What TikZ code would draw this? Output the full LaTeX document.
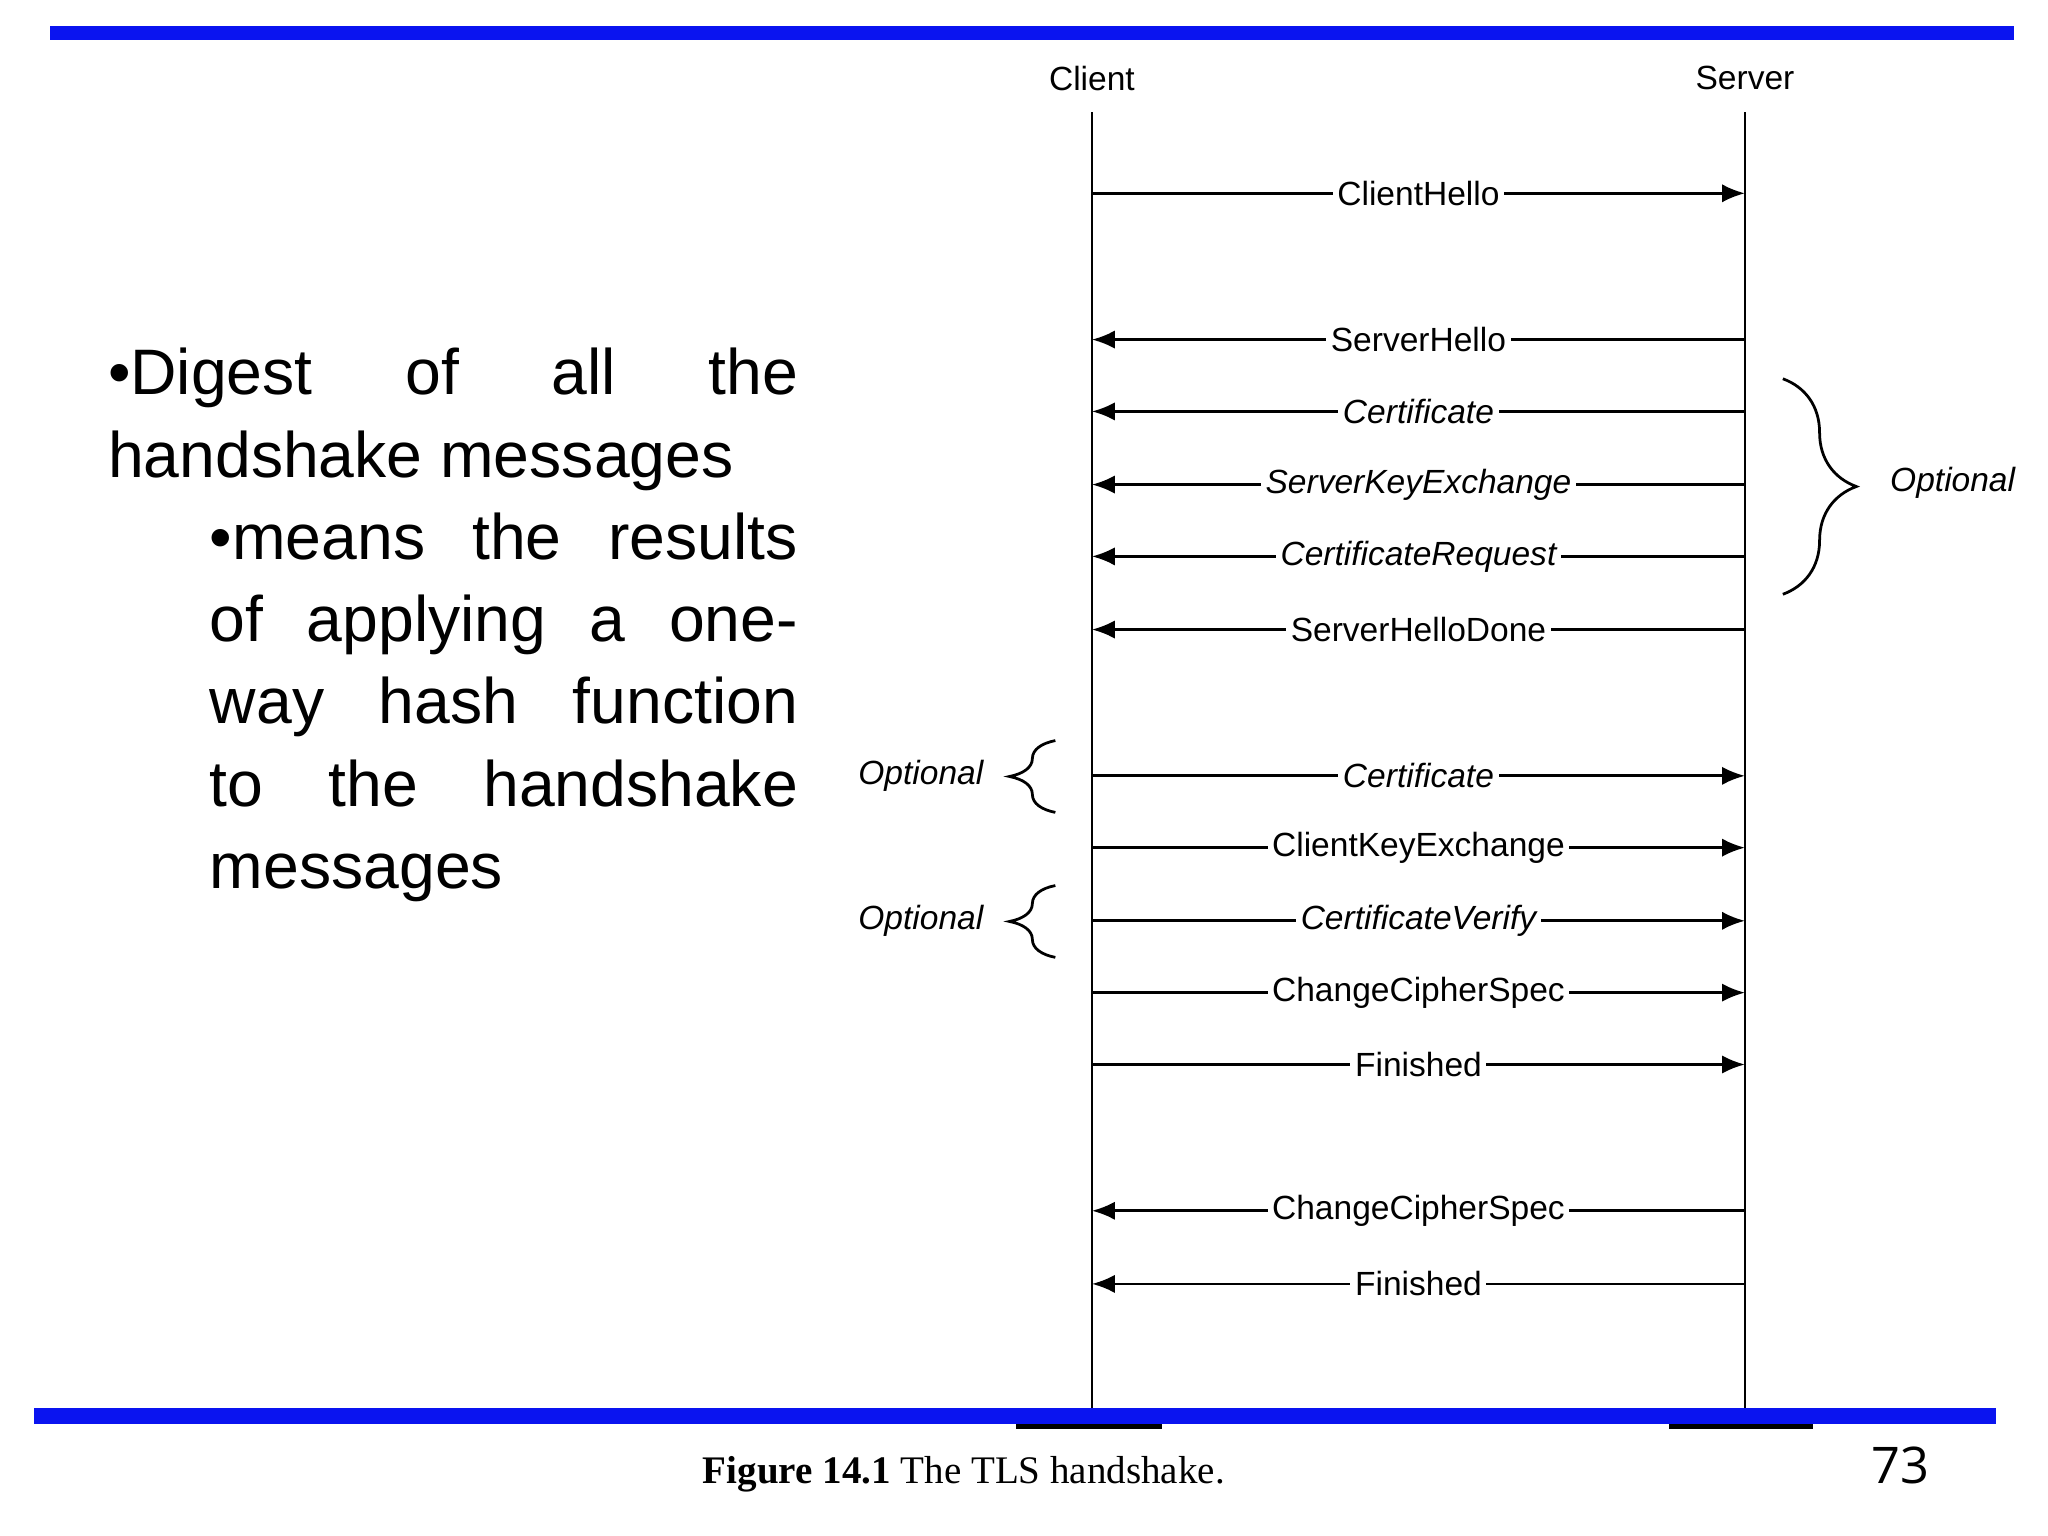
\documentclass[tikz,border=0pt]{standalone}
\usepackage{fontspec}
\setmainfont{Liberation Sans}
\newfontfamily\bodyfont{Liberation Sans}
\newfontfamily\numfont{Open Sans}
\newfontfamily\capfont{Liberation Serif}
\usetikzlibrary{arrows.meta,decorations.pathreplacing}
\definecolor{barblue}{RGB}{10,20,240}
\begin{document}
\begin{tikzpicture}[x=0.01cm,y=-0.01cm,
  msg/.style={line width=0.6pt,-{Latex[length=5pt,width=4pt]}},
  lbl/.style={fill=white,inner sep=1pt,font=\fontsize{7.3}{9}\selectfont},
  ilbl/.style={lbl,font=\fontsize{7.3}{9}\selectfont\itshape},
  life/.style={line width=0.6pt},
  brc/.style={line width=0.6pt,decorate,decoration={brace,amplitude=10pt}}]
\useasboundingbox (0,0) rectangle (1568,1176);
\fill[barblue] (38,20) rectangle (1542,31);
\fill[barblue] (26,1078) rectangle (1528,1090);
\fill (778,1090) rectangle (890,1094);
\fill (1278,1090) rectangle (1388,1094);
\node[font=\fontsize{7.3}{9}\selectfont] (client) at (836,60) {Client};
\node[font=\fontsize{7.3}{9}\selectfont] (server) at (1336,60) {Server};
\coordinate (ct) at (836,86); \coordinate (cb) at (836,1078);
\coordinate (st) at (1336,86); \coordinate (sb) at (1336,1078);
\draw[life] (ct) -- (cb);
\draw[life] (st) -- (sb);
\foreach \y/\t/\s/\d in {148/ClientHello/lbl/r,260/ServerHello/lbl/l,315/Certificate/ilbl/l,371/ServerKeyExchange/ilbl/l,426/CertificateRequest/ilbl/l,482/ServerHelloDone/lbl/l,594/Certificate/ilbl/r,649/ClientKeyExchange/lbl/r,705/CertificateVerify/ilbl/r,760/ChangeCipherSpec/lbl/r,815/Finished/lbl/r,927/ChangeCipherSpec/lbl/l,983/Finished/lbl/l}{
  \coordinate (c\y) at (836,\y); \coordinate (s\y) at (1336,\y);
  \if\d r
    \draw[msg] (c\y) -- node[\s]{\t} (s\y);
  \else
    \draw[msg] (s\y) -- node[\s]{\t} (c\y);
  \fi
}
\coordinate (rb1) at (1365,290); \coordinate (rb2) at (1365,455);
\draw[brc,decoration={amplitude=16pt}] (rb1) -- (rb2);
\node[ilbl] (opt1) at (1495,370) {Optional};
\coordinate (lb1) at (808,622); \coordinate (lb2) at (808,567);
\draw[brc] (lb1) -- (lb2);
\node[ilbl] (opt2) at (705,594) {Optional};
\coordinate (lb3) at (808,733); \coordinate (lb4) at (808,678);
\draw[brc] (lb3) -- (lb4);
\node[ilbl] (opt3) at (705,705) {Optional};
\node[anchor=north west,inner sep=0pt,text width=5.28cm,align=justify,font=\bodyfont\fontsize{14}{17.9}\selectfont] (t1) at (82,266)
 {•Digest of all the\linebreak handshake messages};
\node[anchor=north west,inner sep=0pt,text width=4.5cm,align=justify,font=\bodyfont\fontsize{14}{17.9}\selectfont] (t2) at (160,392)
 {•means the results\linebreak of applying a one-\linebreak way hash function\linebreak to the handshake\linebreak messages};
\node[font=\capfont\fontsize{8.5}{10}\selectfont\bfseries] (cap) at (738,1129) {Figure 14.1 \mdseries The TLS handshake.};
\node[font=\numfont\fontsize{11}{13}\selectfont] (pg) at (1455,1122) {73};
\end{tikzpicture}
\end{document}
